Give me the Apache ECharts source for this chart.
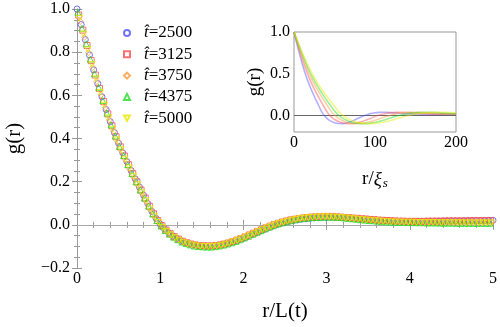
<!DOCTYPE html>
<html><head><meta charset="utf-8">
<script src="https://cdn.jsdelivr.net/npm/echarts@6/dist/echarts.min.js"></script>
<style>html,body{margin:0;padding:0;background:#fff}#c{width:500px;height:327px}</style>
</head><body><div id="c"></div>
<script>
// ---- data ----
const legendLabels = ['2500', '3125', '3750', '4375', '5000'];

// main panel: r/L(t) sample positions and g(r) for each time
const x2500 = [0,0.05,0.1,0.15,0.2,0.25,0.3,0.35,0.4,0.45,0.5,0.55,0.6,0.65,0.7,0.75,0.8,0.85,0.9,0.95,1,1.05,1.1,1.15,1.2,1.25,1.3,1.35,1.4,1.45,1.5,1.55,1.6,1.65,1.7,1.75,1.8,1.85,1.9,1.95,2,2.05,2.1,2.15,2.2,2.25,2.3,2.35,2.4,2.45,2.5,2.55,2.6,2.65,2.7,2.75,2.8,2.85,2.9,2.95,3,3.05,3.1,3.15,3.2,3.25,3.3,3.35,3.4,3.45,3.5,3.55,3.6,3.65,3.7,3.75,3.8,3.85,3.9,3.95,4,4.05,4.1,4.15,4.2,4.25,4.3,4.35,4.4,4.45,4.5,4.55,4.6,4.65,4.7,4.75,4.8,4.85,4.9,4.95,5];
const g2500 = [1.000,0.928,0.858,0.787,0.718,0.654,0.593,0.534,0.478,0.427,0.378,0.334,0.293,0.252,0.213,0.175,0.137,0.099,0.062,0.030,0.003,
 -0.018,-0.036,-0.051,-0.063,-0.074,-0.082,-0.088,-0.093,-0.096,-0.098,-0.099,-0.099,-0.097,-0.095,-0.091,-0.086,-0.081,-0.075,-0.068,-0.061,
 -0.053,-0.045,-0.037,-0.029,-0.021,-0.013,-0.006,0.001,0.007,0.012,0.016,0.020,0.023,0.026,0.028,0.030,0.032,0.033,0.034,0.034,
 0.035,0.035,0.034,0.033,0.032,0.030,0.029,0.027,0.026,0.024,0.023,0.021,0.020,0.019,0.018,0.017,0.016,0.015,0.015,0.014,
 0.015,0.015,0.015,0.016,0.016,0.016,0.017,0.017,0.017,0.018,0.018,0.018,0.019,0.019,0.019,0.020,0.020,0.020,0.021,0.021];

const x3125 = [0.02,0.07,0.12,0.17,0.22,0.27,0.32,0.37,0.42,0.47,0.52,0.57,0.62,0.67,0.72,0.77,0.82,0.87,0.92,0.97,1.02,1.07,1.12,1.17,1.22,1.27,1.32,1.37,1.42,1.47,1.52,1.57,1.62,1.67,1.72,1.77,1.82,1.87,1.92,1.97,2.02,2.07,2.12,2.17,2.22,2.27,2.32,2.37,2.42,2.47,2.52,2.57,2.62,2.67,2.72,2.77,2.82,2.87,2.92,2.97,3.02,3.07,3.12,3.17,3.22,3.27,3.32,3.37,3.42,3.47,3.52,3.57,3.62,3.67,3.72,3.77,3.82,3.87,3.92,3.97,4.02,4.07,4.12,4.17,4.22,4.27,4.32,4.37,4.42,4.47,4.52,4.57,4.62,4.67,4.72,4.77,4.82,4.87,4.92,4.97];
const g3125 = [0.972,0.902,0.831,0.761,0.694,0.632,0.571,0.514,0.459,0.408,0.361,0.319,0.278,0.237,0.199,0.161,0.124,0.086,0.051,0.020,
 -0.004,-0.024,-0.041,-0.055,-0.066,-0.076,-0.083,-0.089,-0.093,-0.096,-0.097,-0.098,-0.098,-0.096,-0.093,-0.089,-0.084,-0.078,-0.071,-0.064,
 -0.056,-0.047,-0.039,-0.030,-0.022,-0.014,-0.006,0.001,0.007,0.013,0.018,0.023,0.026,0.029,0.032,0.034,0.036,0.037,0.038,0.039,
 0.039,0.039,0.037,0.036,0.034,0.033,0.031,0.030,0.028,0.027,0.025,0.024,0.022,0.021,0.020,0.019,0.018,0.017,0.017,0.016,
 0.016,0.016,0.016,0.016,0.017,0.017,0.017,0.017,0.018,0.018,0.018,0.018,0.018,0.018,0.019,0.019,0.019,0.019,0.019,0.019];

const x3750 = [0.04,0.09,0.14,0.19,0.24,0.29,0.34,0.39,0.44,0.49,0.54,0.59,0.64,0.69,0.74,0.79,0.84,0.89,0.94,0.99,1.04,1.09,1.14,1.19,1.24,1.29,1.34,1.39,1.44,1.49,1.54,1.59,1.64,1.69,1.74,1.79,1.84,1.89,1.94,1.99,2.04,2.09,2.14,2.19,2.24,2.29,2.34,2.39,2.44,2.49,2.54,2.59,2.64,2.69,2.74,2.79,2.84,2.89,2.94,2.99,3.04,3.09,3.14,3.19,3.24,3.29,3.34,3.39,3.44,3.49,3.54,3.59,3.64,3.69,3.74,3.79,3.84,3.89,3.94,3.99,4.04,4.09,4.14,4.19,4.24,4.29,4.34,4.39,4.44,4.49,4.54,4.59,4.64,4.69,4.74,4.79,4.84,4.89,4.94,4.99];
const g3750 = [0.942,0.869,0.798,0.729,0.664,0.602,0.543,0.486,0.434,0.385,0.340,0.298,0.257,0.218,0.180,0.142,0.105,0.067,0.034,0.007,
 -0.015,-0.033,-0.049,-0.062,-0.073,-0.081,-0.088,-0.093,-0.096,-0.099,-0.100,-0.100,-0.098,-0.096,-0.093,-0.088,-0.082,-0.076,-0.069,-0.062,
 -0.054,-0.045,-0.037,-0.028,-0.020,-0.012,-0.004,0.003,0.009,0.014,0.019,0.023,0.026,0.029,0.032,0.034,0.035,0.036,0.037,0.037,
 0.037,0.036,0.035,0.033,0.032,0.030,0.029,0.027,0.026,0.024,0.023,0.021,0.020,0.018,0.017,0.016,0.015,0.014,0.014,0.013,
 0.013,0.013,0.013,0.013,0.013,0.013,0.013,0.013,0.013,0.014,0.014,0.014,0.014,0.014,0.014,0.014,0.014,0.014,0.014,0.014];

const x4375 = [0.01,0.06,0.11,0.16,0.21,0.26,0.31,0.36,0.41,0.46,0.51,0.56,0.61,0.66,0.71,0.76,0.81,0.86,0.91,0.96,1.01,1.06,1.11,1.16,1.21,1.26,1.31,1.36,1.41,1.46,1.51,1.56,1.61,1.66,1.71,1.76,1.81,1.86,1.91,1.96,2.01,2.06,2.11,2.16,2.21,2.26,2.31,2.36,2.41,2.46,2.51,2.56,2.61,2.66,2.71,2.76,2.81,2.86,2.91,2.96,3.01,3.06,3.11,3.16,3.21,3.26,3.31,3.36,3.41,3.46,3.51,3.56,3.61,3.66,3.71,3.76,3.81,3.86,3.91,3.96,4.01,4.06,4.11,4.16,4.21,4.26,4.31,4.36,4.41,4.46,4.51,4.56,4.61,4.66,4.71,4.76,4.81,4.86,4.91,4.96];
const g4375 = [0.985,0.911,0.839,0.768,0.700,0.637,0.576,0.518,0.463,0.412,0.364,0.321,0.279,0.238,0.199,0.162,0.124,0.087,0.051,0.020,
 -0.005,-0.026,-0.043,-0.057,-0.069,-0.080,-0.087,-0.093,-0.098,-0.100,-0.102,-0.103,-0.103,-0.101,-0.098,-0.094,-0.089,-0.083,-0.077,-0.069,
 -0.061,-0.053,-0.044,-0.036,-0.027,-0.019,-0.011,-0.004,0.003,0.009,0.014,0.019,0.023,0.027,0.029,0.031,0.033,0.034,0.035,0.036,
 0.036,0.036,0.035,0.034,0.032,0.030,0.028,0.026,0.024,0.022,0.020,0.019,0.017,0.016,0.014,0.013,0.012,0.012,0.011,0.011,
 0.011,0.010,0.010,0.010,0.009,0.009,0.009,0.008,0.008,0.008,0.008,0.007,0.007,0.007,0.007,0.007,0.007,0.007,0.007,0.007];

const x5000 = [0.03,0.08,0.13,0.18,0.23,0.28,0.33,0.38,0.43,0.48,0.53,0.58,0.63,0.68,0.73,0.78,0.83,0.88,0.93,0.98,1.03,1.08,1.13,1.18,1.23,1.28,1.33,1.38,1.43,1.48,1.53,1.58,1.63,1.68,1.73,1.78,1.83,1.88,1.93,1.98,2.03,2.08,2.13,2.18,2.23,2.28,2.33,2.38,2.43,2.48,2.53,2.58,2.63,2.68,2.73,2.78,2.83,2.88,2.93,2.98,3.03,3.08,3.13,3.18,3.23,3.28,3.33,3.38,3.43,3.48,3.53,3.58,3.63,3.68,3.73,3.78,3.83,3.88,3.93,3.98,4.03,4.08,4.13,4.18,4.23,4.28,4.33,4.38,4.43,4.48,4.53,4.58,4.63,4.68,4.73,4.78,4.83,4.88,4.93,4.98];
const g5000 = [0.956,0.883,0.811,0.742,0.676,0.613,0.554,0.496,0.443,0.394,0.348,0.305,0.264,0.225,0.186,0.149,0.111,0.074,0.040,0.011,
 -0.012,-0.031,-0.047,-0.060,-0.072,-0.081,-0.088,-0.093,-0.097,-0.099,-0.101,-0.101,-0.100,-0.098,-0.095,-0.090,-0.084,-0.078,-0.072,-0.064,
 -0.056,-0.048,-0.039,-0.031,-0.022,-0.014,-0.007,0.000,0.007,0.012,0.017,0.021,0.025,0.029,0.031,0.033,0.035,0.036,0.037,0.037,
 0.037,0.036,0.035,0.034,0.032,0.030,0.028,0.026,0.024,0.022,0.021,0.019,0.018,0.016,0.015,0.014,0.013,0.013,0.012,0.012,
 0.012,0.011,0.011,0.011,0.011,0.011,0.010,0.010,0.010,0.010,0.010,0.010,0.009,0.009,0.009,0.009,0.009,0.009,0.009,0.009];

// inset: g(r) vs r/xi_s
const rOverXi = [0,5,10,15,20,25,30,35,40,45,50,55,60,65,70,75,80,85,90,95,100,105,110,115,120,125,130,135,140,145,150,155,160,165,170,175,180,185,190,195,200];
const inset2500 = [1.0,0.805,0.626,0.470,0.340,0.229,0.127,0.030,-0.030,-0.067,-0.089,-0.098,-0.099,-0.091,-0.076,-0.055,-0.033,-0.011,0.008,0.022,0.030,0.035,0.037,0.036,0.032,0.028,0.024,0.020,0.017,0.014,0.013,0.012,0.012,0.012,0.012,0.012,0.011,0.011,0.011,0.011,0.011];
const inset3125 = [1.0,0.835,0.680,0.544,0.419,0.318,0.224,0.138,0.055,-0.010,-0.048,-0.075,-0.091,-0.098,-0.100,-0.095,-0.085,-0.071,-0.052,-0.034,-0.014,0.002,0.015,0.025,0.031,0.035,0.037,0.037,0.034,0.030,0.027,0.024,0.021,0.017,0.015,0.013,0.014,0.015,0.016,0.017,0.018];
const inset3750 = [1.0,0.855,0.715,0.590,0.475,0.375,0.290,0.210,0.135,0.060,0.002,-0.037,-0.064,-0.083,-0.094,-0.099,-0.100,-0.096,-0.087,-0.075,-0.060,-0.043,-0.026,-0.010,0.004,0.015,0.024,0.030,0.034,0.036,0.037,0.036,0.033,0.030,0.027,0.024,0.021,0.018,0.016,0.014,0.013];
const inset4375 = [1.0,0.868,0.740,0.622,0.514,0.420,0.336,0.260,0.188,0.121,0.054,0.002,-0.034,-0.060,-0.079,-0.091,-0.097,-0.100,-0.099,-0.094,-0.085,-0.073,-0.060,-0.045,-0.029,-0.014,-0.001,0.010,0.019,0.026,0.031,0.034,0.036,0.037,0.036,0.034,0.031,0.028,0.025,0.022,0.020];
const inset5000 = [1.0,0.880,0.760,0.651,0.550,0.457,0.375,0.303,0.236,0.172,0.110,0.049,0.002,-0.031,-0.057,-0.075,-0.088,-0.095,-0.099,-0.100,-0.098,-0.092,-0.084,-0.072,-0.060,-0.046,-0.032,-0.018,-0.005,0.006,0.015,0.023,0.028,0.032,0.035,0.036,0.037,0.037,0.035,0.032,0.030];

// ---- chart ----
const FONT = 'Liberation Serif, DejaVu Serif, serif';
const colors = ['#5050ff', '#ff4d4d', '#ff9a33', '#22dd22', '#e8e800'];
const symbols = ['circle', 'rect', 'diamond', 'triangle', 'path://M0,0 L10,0 L5,9 Z'];
const mainX = [x2500, x3125, x3750, x4375, x5000];
const mainY = [g2500, g3125, g3750, g4375, g5000];
const insetSets = [inset2500, inset3125, inset3750, inset4375, inset5000];
const names = legendLabels.map(l => 't\u0302=' + l);
const frame = '#999';

function fmtY(v) {
  const s = Math.abs(v).toFixed(1);
  return v < -1e-9 ? '\u2212' + s : s;
}
function zip(xs, ys) { return xs.map((x, i) => [x, ys[i]]); }

const series = [];
mainY.forEach((ys, i) => {
  const s = {
    name: names[i], type: 'scatter', xAxisIndex: 0, yAxisIndex: 0,
    data: zip(mainX[i], ys), symbol: symbols[i], symbolSize: 6,
    itemStyle: { color: 'transparent', borderColor: colors[i], borderWidth: 1 },
    emphasis: { disabled: true }, z: 3 + i, silent: true
  };
  if (i === 0) {
    s.markLine = { silent: true, symbol: 'none', label: { show: false },
      lineStyle: { color: '#aaa', width: 1, type: 'solid' }, data: [{ yAxis: 0 }], z: 1 };
  }
  series.push(s);
});
insetSets.forEach((ys, i) => {
  const s = {
    name: 'inset' + i, type: 'line', xAxisIndex: 2, yAxisIndex: 2,
    data: zip(rOverXi, ys), showSymbol: false, smooth: true,
    lineStyle: { color: colors[i], width: 1.6, opacity: 0.45 },
    emphasis: { disabled: true }, silent: true, z: 10 + i
  };
  if (i === 0) {
    s.markLine = { silent: true, symbol: 'none', label: { show: false },
      lineStyle: { color: '#666', width: 1, type: 'solid' }, data: [{ yAxis: 0 }] };
  }
  series.push(s);
});

const labelStyle = { fontFamily: FONT, fontSize: 16, color: '#000' };
const option = {
  animation: false,
  backgroundColor: '#fff',
  grid: [
    { left: 77, top: 9, width: 416, height: 259, containLabel: false, outerBoundsMode: 'none' },
    { left: 294, top: 32, width: 162, height: 100, containLabel: false, outerBoundsMode: 'none',
      show: true, borderColor: frame, borderWidth: 1, backgroundColor: '#fff', z: 5 }
  ],
  legend: {
    data: names, orient: 'vertical', left: 123, top: 24.5, padding: 0, itemWidth: 6, itemHeight: 6,
    itemGap: 4.3, selectedMode: false,
    textStyle: { fontFamily: FONT, fontSize: 17, color: '#000', lineHeight: 17, padding: [0, 0, 0, 9],
      rich: { t: { fontFamily: FONT, fontSize: 17, fontStyle: 'italic', lineHeight: 17 } } },
    formatter: n => '{t|t\u0302}=' + n.split('=')[1]
  },
  xAxis: [
    { gridIndex: 0, type: 'value', min: 0, max: 5, interval: 1, position: 'bottom',
      axisLine: { lineStyle: { color: frame } },
      axisTick: { inside: true, length: 5, lineStyle: { color: frame } },
      minorTick: { show: true, splitNumber: 5, length: 3, lineStyle: { color: frame } },
      splitLine: { show: false }, axisLabel: Object.assign({ margin: 3 }, labelStyle),
      name: 'r/L(t)', nameLocation: 'middle', nameGap: 33,
      nameTextStyle: { fontFamily: FONT, fontSize: 21, color: '#000' } },
    { gridIndex: 0, type: 'value', min: 0, max: 5, interval: 1, position: 'top',
      axisLine: { lineStyle: { color: frame } },
      axisTick: { inside: true, length: 5, lineStyle: { color: frame } },
      minorTick: { show: true, splitNumber: 5, length: 3, lineStyle: { color: frame } },
      splitLine: { show: false }, axisLabel: { show: false } },
    { gridIndex: 1, type: 'value', min: 0, max: 200, interval: 100, position: 'bottom',
      axisLine: { show: false }, axisTick: { show: false }, splitLine: { show: false },
      axisLabel: Object.assign({ margin: 3 }, labelStyle),
      name: 'r/{i|\u03be}{s|s}', nameLocation: 'middle', nameGap: 37,
      nameTextStyle: { fontFamily: FONT, fontSize: 19, color: '#000',
        rich: { i: { fontFamily: FONT, fontSize: 19, fontStyle: 'italic' },
                s: { fontFamily: FONT, fontSize: 13, fontStyle: 'italic', verticalAlign: 'bottom', padding: [8, 0, 0, 1] } } } }
  ],
  yAxis: [
    { gridIndex: 0, type: 'value', min: -0.2, max: 1.0, interval: 0.2, position: 'left',
      axisLine: { show: true, lineStyle: { color: frame } },
      axisTick: { show: true, inside: true, length: 5, lineStyle: { color: frame } },
      minorTick: { show: true, splitNumber: 4, length: 3, lineStyle: { color: frame } },
      splitLine: { show: false },
      axisLabel: Object.assign({ margin: 7, formatter: fmtY }, labelStyle),
      name: 'g(r)', nameLocation: 'middle', nameGap: 52, nameRotate: 90,
      nameTextStyle: { fontFamily: FONT, fontSize: 21, color: '#000' } },
    { gridIndex: 0, type: 'value', min: -0.2, max: 1.0, interval: 0.2, position: 'right',
      axisLine: { show: true, lineStyle: { color: frame } },
      axisTick: { show: true, inside: true, length: 5, lineStyle: { color: frame } },
      minorTick: { show: true, splitNumber: 4, length: 3, lineStyle: { color: frame } },
      splitLine: { show: false }, axisLabel: { show: false } },
    { gridIndex: 1, type: 'value', min: -0.2, max: 1.0, interval: 0.1, position: 'left',
      axisLine: { show: false }, axisTick: { show: false }, splitLine: { show: false },
      axisLabel: Object.assign({ margin: 4, formatter: v => {
        if (Math.abs(v) < 1e-6) return '0.0';
        if (Math.abs(v - 0.5) < 1e-6) return '0.5';
        if (Math.abs(v - 1) < 1e-6) return '1.0';
        return '';
      } }, labelStyle),
      name: 'g(r)', nameLocation: 'middle', nameGap: 29, nameRotate: 90,
      nameTextStyle: { fontFamily: FONT, fontSize: 19, color: '#000' } }
  ],
  series: series
};
const chart = echarts.init(document.getElementById('c'), null, { renderer: 'canvas' });
chart.setOption(option);
</script>
</body></html>
